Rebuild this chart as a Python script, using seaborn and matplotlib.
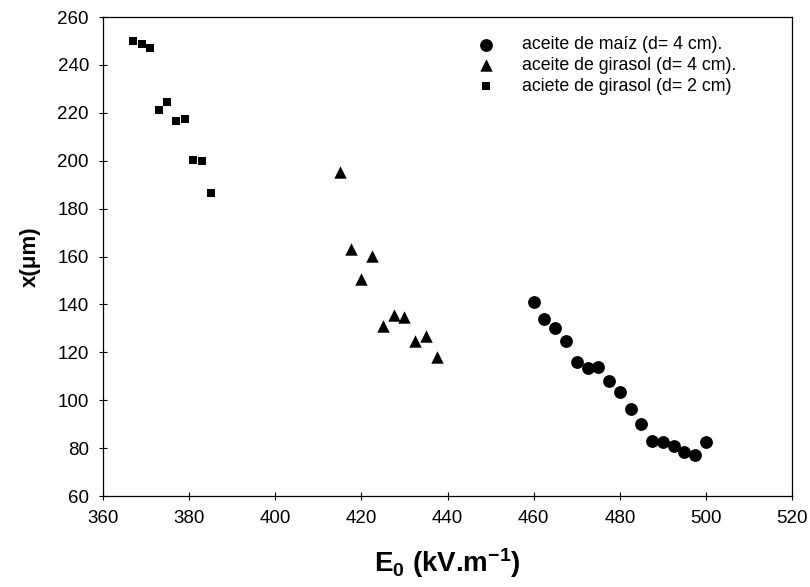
import matplotlib
matplotlib.use("Agg")
import matplotlib.pyplot as plt
import seaborn as sns
import pandas as pd

# Data
maiz_E = [460, 462.5, 465, 467.5, 470, 472.5, 475, 477.5, 480, 482.5, 485, 487.5, 490, 492.5, 495, 497.5, 500]
maiz_x = [141, 134, 130, 124.7, 116, 113.3, 113.7, 108, 103.3, 96.3, 90, 83, 82.7, 81, 78.2, 77.1, 82.4]
gir4_E = [415, 417.5, 420, 422.5, 425, 427.5, 430, 432.5, 435, 437.5]
gir4_x = [195.2, 163, 150.5, 160.4, 131, 135.6, 134.6, 124.6, 126.9, 118]
gir2_E = [367, 369, 371, 373, 375, 377, 379, 381, 383, 385]
gir2_x = [250, 248.6, 247.2, 221.2, 224.4, 216.7, 217.3, 200.2, 199.9, 186.4]
labels = ["aceite de maíz (d= 4 cm).", "aceite de girasol (d= 4 cm).", "aciete de girasol (d= 2 cm)"]
xticks = [360, 380, 400, 420, 440, 460, 480, 500, 520]
yticks = [60, 80, 100, 120, 140, 160, 180, 200, 220, 240, 260]

sns.set_theme(style="ticks")
plt.rcParams["font.family"] = ["Liberation Sans", "DejaVu Sans"]
plt.rcParams["mathtext.fontset"] = "custom"
plt.rcParams["mathtext.bf"] = "Liberation Sans:bold"
plt.rcParams["mathtext.rm"] = "Liberation Sans:bold"
plt.rcParams["mathtext.default"] = "bf"
for k in ["text.color", "axes.labelcolor", "xtick.color", "ytick.color", "axes.edgecolor"]:
    plt.rcParams[k] = "black"

fig = plt.figure(figsize=(8.1, 5.87), dpi=100)
ax = fig.add_axes([0.127, 0.155, 0.851, 0.816])

df1 = pd.DataFrame({"E": maiz_E, "x": maiz_x})
df2 = pd.DataFrame({"E": gir4_E, "x": gir4_x})
df3 = pd.DataFrame({"E": gir2_E, "x": gir2_x})

sns.scatterplot(data=df1, x="E", y="x", marker="o", s=85, color="black", edgecolor="black", linewidth=0, ax=ax, label=labels[0])
sns.scatterplot(data=df2, x="E", y="x", marker="^", s=80, color="black", edgecolor="black", linewidth=0, ax=ax, label=labels[1])
sns.scatterplot(data=df3, x="E", y="x", marker="s", s=40, color="black", edgecolor="black", linewidth=0, ax=ax, label=labels[2])

ax.set_xlim(360, 520)
ax.set_ylim(60, 260)
ax.set_xticks(xticks)
ax.set_yticks(yticks)
ax.tick_params(direction="inout", length=6, width=0.8, labelsize=13.5, pad=7)
for sp in ax.spines.values():
    sp.set_linewidth(0.9)

ax.set_xlabel("E$_0$ (kV.m$^{-1}$)", fontsize=20, fontweight="bold", labelpad=14)
ax.set_ylabel("x(μm)", fontsize=16, fontweight="bold", labelpad=12)

leg = ax.legend(loc="upper left", bbox_to_anchor=(0.530, 0.96), frameon=False, fontsize=12.8,
                handletextpad=1.0, labelspacing=0.22, borderaxespad=0, borderpad=0)

fig.savefig("out.png", dpi=100)
